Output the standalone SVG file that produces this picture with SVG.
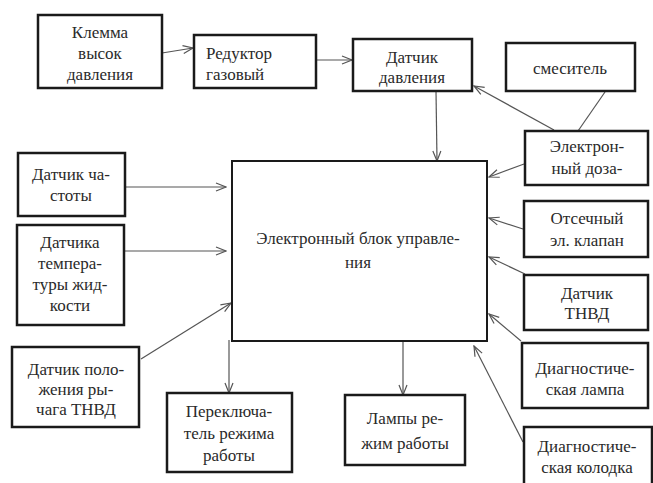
<svg xmlns="http://www.w3.org/2000/svg" width="653" height="483" viewBox="0 0 653 483">
<style>
.box{fill:#fff;stroke:#1a1a1a;stroke-width:2.5}
.main{fill:#fff;stroke:#1a1a1a;stroke-width:2}
text{font-size:17px;fill:#2a2a2a;text-anchor:middle}
.l{text-anchor:start}
.c{stroke:#555;stroke-width:1.2;fill:none}
.a{marker-end:url(#arr)}
</style>
<defs>
<marker id="arr" viewBox="0 0 12 10" refX="11" refY="5" markerWidth="12" markerHeight="10" markerUnits="userSpaceOnUse" orient="auto">
<path d="M1,1 L11,5 L1,9" fill="none" stroke="#555" stroke-width="1.2"/>
</marker>
</defs>
<rect width="653" height="483" fill="#fff"/>
<g id="connectors">
<line class="c a" x1="162" y1="53" x2="193" y2="48"/>
<line class="c a" x1="317" y1="60" x2="352" y2="60"/>
<line class="c a" x1="436" y1="91" x2="437" y2="161"/>
<line class="c" x1="605" y1="92" x2="578" y2="131"/>
<line class="c a" x1="554" y1="130" x2="474" y2="86"/>
<line class="c a" x1="524" y1="164" x2="489" y2="177"/>
<line class="c a" x1="523" y1="229" x2="489" y2="218"/>
<line class="c a" x1="525" y1="274" x2="489" y2="257"/>
<line class="c a" x1="521" y1="341" x2="489" y2="314"/>
<line class="c a" x1="523" y1="442" x2="474" y2="346"/>
<line class="c a" x1="403" y1="342" x2="403" y2="395"/>
<line class="c a" x1="229" y1="340" x2="229" y2="393"/>
<line class="c a" x1="141" y1="359" x2="231" y2="303"/>
<line class="c a" x1="126" y1="187" x2="226" y2="187"/>
<line class="c a" x1="125" y1="251" x2="226" y2="251"/>
</g>
<g font-family="'Liberation Serif', 'DejaVu Serif', serif">
<g id="main">
<rect class="main" x="232" y="161" width="255" height="180"/>
<text x="358" y="244">Электронный блок управле-</text>
<text x="358" y="268">ния</text>
</g>
<g id="klemma">
<rect class="box" x="38" y="15" width="124" height="73"/>
<text x="100" y="38">Клемма</text>
<text x="100" y="59">высок</text>
<text x="100" y="80">давления</text>
</g>
<g id="reduktor">
<rect class="box" x="194" y="35" width="122" height="53"/>
<text class="l" x="206" y="59">Редуктор</text>
<text class="l" x="206" y="80">газовый</text>
</g>
<g id="datchik-davl">
<rect class="box" x="353" y="39" width="119" height="52"/>
<text x="412" y="63">Датчик</text>
<text x="412" y="83">давления</text>
</g>
<g id="smesitel">
<rect class="box" x="506" y="43" width="129" height="48"/>
<text x="570" y="74">смеситель</text>
</g>
<g id="dozator">
<rect class="box" x="525" y="131" width="123" height="54"/>
<text x="587" y="152">Электрон-</text>
<text x="587" y="174">ный доза-</text>
</g>
<g id="otsechny">
<rect class="box" x="524" y="201" width="124" height="56"/>
<text x="587" y="224">Отсечный</text>
<text x="587" y="246">эл. клапан</text>
</g>
<g id="datchik-tnvd">
<rect class="box" x="524" y="275" width="124" height="55"/>
<text x="587" y="299">Датчик</text>
<text x="587" y="319">ТНВД</text>
</g>
<g id="diag-lampa">
<rect class="box" x="522" y="343" width="126" height="65"/>
<text x="585" y="374">Диагностиче-</text>
<text x="585" y="395">ская лампа</text>
</g>
<g id="diag-kolodka">
<rect class="box" x="524" y="427" width="128" height="62"/>
<text x="587" y="452">Диагностиче-</text>
<text x="587" y="473">ская колодка</text>
</g>
<g id="lampy">
<rect class="box" x="345" y="395" width="120" height="70"/>
<text x="405" y="424">Лампы ре-</text>
<text x="405" y="449">жим работы</text>
</g>
<g id="pereklyuchatel">
<rect class="box" x="167" y="393" width="125" height="79"/>
<text x="229" y="417">Переключа-</text>
<text x="229" y="439">тель режима</text>
<text x="229" y="461">работы</text>
</g>
<g id="datchik-polozh">
<rect class="box" x="12" y="347" width="127" height="80"/>
<text x="76" y="375">Датчик поло-</text>
<text x="76" y="395">жения ры-</text>
<text x="76" y="415">чага ТНВД</text>
</g>
<g id="datchik-temp">
<rect class="box" x="17" y="225" width="107" height="100"/>
<text x="70" y="248">Датчика</text>
<text x="70" y="269">темпера-</text>
<text x="70" y="290">туры жид-</text>
<text x="70" y="311">кости</text>
</g>
<g id="datchik-chast">
<rect class="box" x="18" y="153" width="107" height="63"/>
<text x="71" y="180">Датчик ча-</text>
<text x="71" y="201">стоты</text>
</g>
</g>
</svg>
